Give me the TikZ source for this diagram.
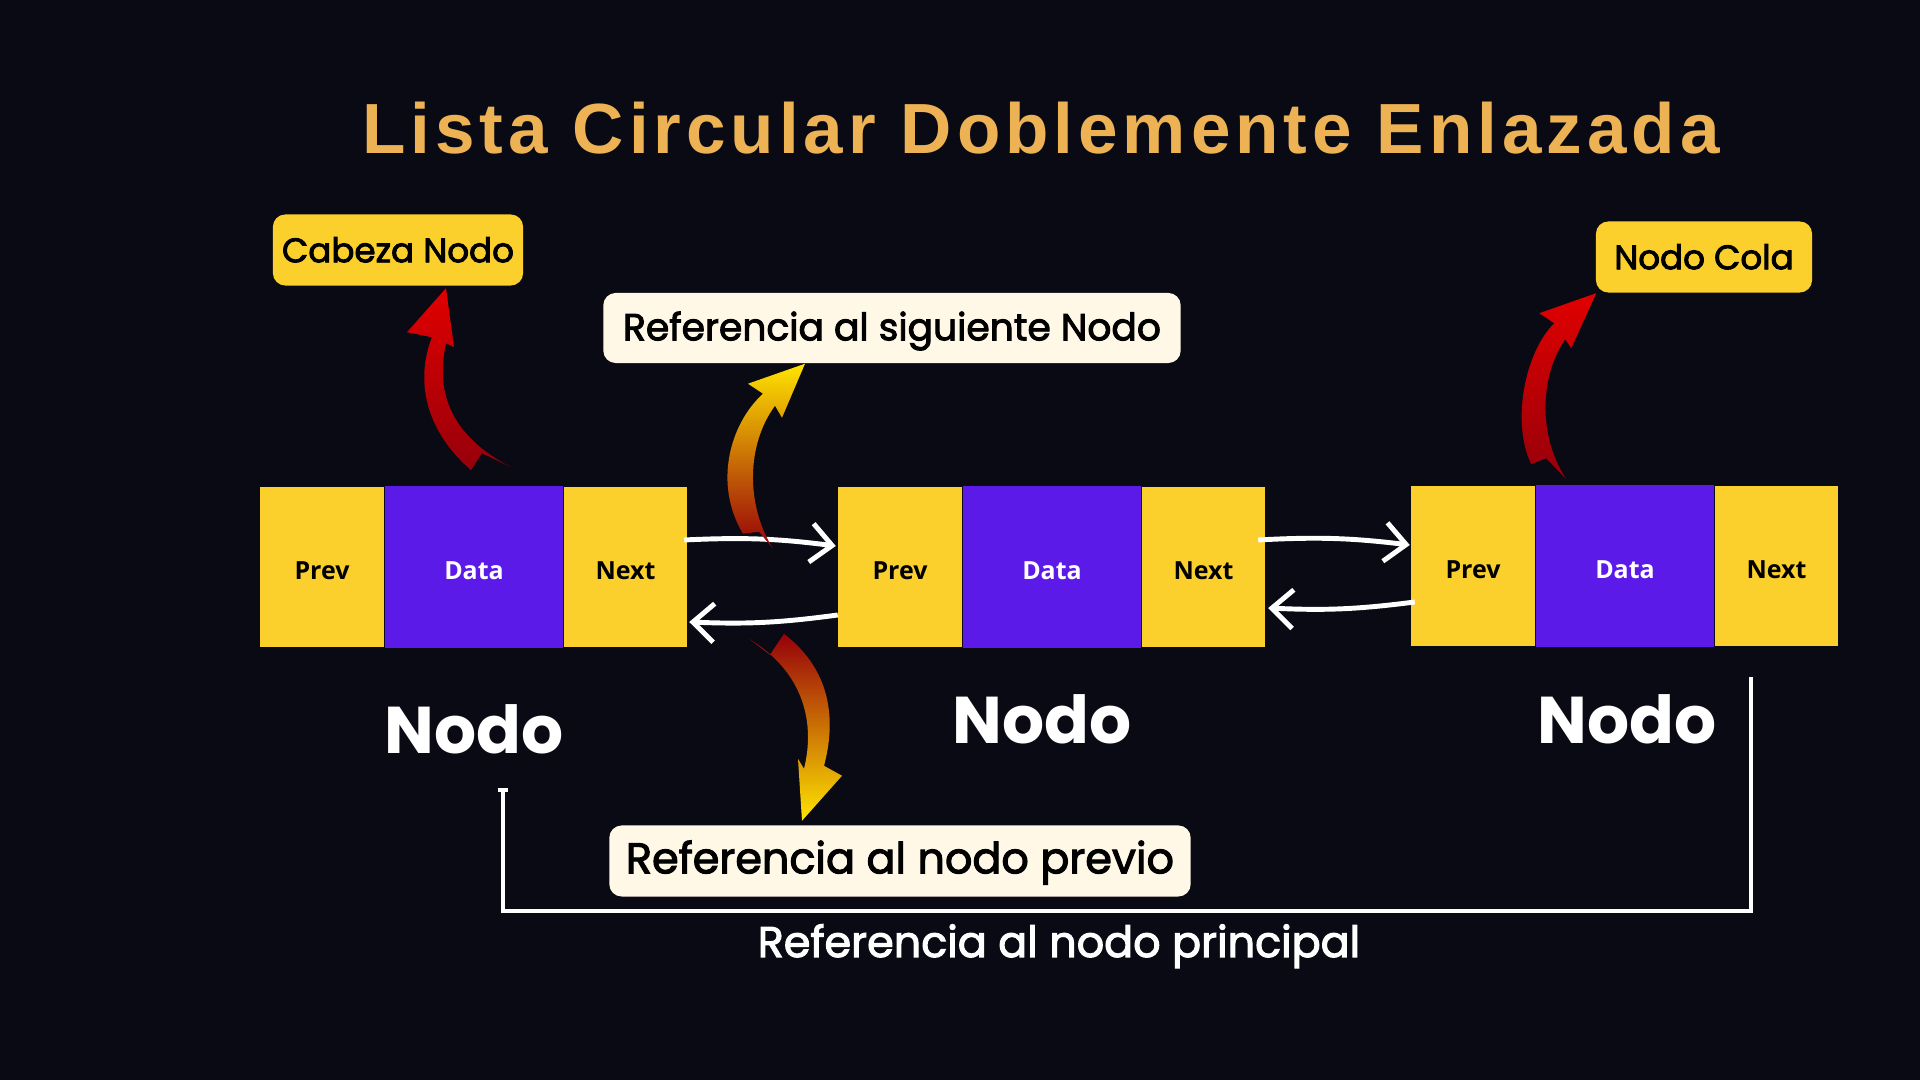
\documentclass[tikz,border=0pt]{standalone}
\usepackage{fontspec}
\setmainfont{Poppins}
\newfontfamily\lblfont[FakeBold=2.5]{Poppins}
\newfontfamily\titlefont[LetterSpace=7]{Liberation Sans}
\newfontfamily\cellfont{Open Sans}
\usetikzlibrary{positioning, arrows.meta, calc}
\definecolor{fondo}{RGB}{10,10,20}
\definecolor{celdaamarilla}{RGB}{252,208,44}
\definecolor{celdamorada}{RGB}{92,26,232}
\definecolor{titulonaranja}{RGB}{236,178,84}
\definecolor{crema}{RGB}{255,248,230}
\definecolor{rojoflecha}{RGB}{225,0,0}
\definecolor{rojooscuro}{RGB}{150,0,10}
\definecolor{amarilloflecha}{RGB}{255,228,0}

\begin{document}
\begin{tikzpicture}[x=0.01cm, y=-0.01cm,
  cell/.style={rectangle, inner sep=0pt, minimum height=1.59cm,
    text height=0.72em, text depth=0pt,
    font=\cellfont\bfseries\fontsize{7.1}{8}\selectfont},
  prevcell/.style={cell, fill=celdaamarilla, minimum width=1.23cm},
  datacell/.style={cell, fill=celdamorada, text=white, minimum width=1.78cm,
    minimum height=1.62cm},
  nextcell/.style={cell, fill=celdaamarilla, minimum width=1.22cm},
  tag/.style={rectangle, rounded corners=3.5pt, fill=celdaamarilla,
    inner sep=0pt, minimum height=0.71cm, text height=0.7em, text depth=0pt,
    font=\lblfont\fontsize{9.7}{12}\selectfont},
  refbox/.style={tag, fill=crema},
  nodolbl/.style={text=white, inner sep=0pt, anchor=base,
    font=\bfseries\fontsize{18.8}{22}\selectfont},
  link/.style={draw=white, line width=1.4pt,
    -{Straight Barb[length=6pt, width=11pt]}},
  bracket/.style={draw=white, line width=1pt, -{Bar[width=3pt]}},
  redswoosh/.style={top color=rojoflecha, bottom color=rojooscuro},
  upswoosh/.style={top color=amarilloflecha, middle color=orange,
    bottom color=rojooscuro},
  downswoosh/.style={top color=rojooscuro, middle color=orange,
    bottom color=amarilloflecha}
]
  \useasboundingbox (0,0) rectangle (1920,1080);
  \fill[fondo] (0,0) rectangle (1920,1080);

  \node[text=titulonaranja, anchor=base, inner sep=0pt,
    font=\titlefont\bfseries\fontsize{20.2}{24}\selectfont] (titulo)
    at (1041,154) {Lista Circular Doblemente Enlazada};

  % nodos de la lista
  \node[prevcell] (prev1) at (322,567) {Prev};
  \node[datacell, right=0pt of prev1] (data1) {Data};
  \node[nextcell, right=0pt of data1] (next1) {Next};

  \node[prevcell] (prev2) at (900,567) {Prev};
  \node[datacell, right=0pt of prev2] (data2) {Data};
  \node[nextcell, right=0pt of data2] (next2) {Next};

  \node[prevcell] (prev3) at (1473,566) {Prev};
  \node[datacell, right=0pt of prev3] (data3) {Data};
  \node[nextcell, right=0pt of data3] (next3) {Next};

  \node[nodolbl] (nodo1) at ($(data1.south)+(0,105)$) {Nodo};
  \node[nodolbl] (nodo2) at ($(data2.south)+(-10,95)$) {Nodo};
  \node[nodolbl] (nodo3) at ($(data3.south)+(2,96)$) {Nodo};

  % etiquetas
  \node[tag, minimum width=2.5cm] (cabeza) at (398,250) {Cabeza Nodo};
  \node[tag, minimum width=2.16cm] (cola) at (1704,257) {Nodo Cola};
  \node[refbox, minimum width=5.77cm, minimum height=0.7cm] (siguiente)
    at (892,328) {\fontsize{10.7}{13}\selectfont Referencia al siguiente Nodo};
  \node[refbox, minimum width=5.81cm] (previo) at (900,861)
    {\fontsize{12.2}{15}\selectfont Referencia al nodo previo};

  % enlaces
  \draw[link] ($(next1.east)+(-3,-27)$) to[bend left=5] ($(prev2.west)+(-2,-21)$);
  \draw[link] ($(prev2.west)+(0,48)$) to[bend left=5] ($(next1.east)+(2,55)$);
  \draw[link] ($(next2.east)+(-7,-27)$) to[bend left=5] ($(prev3.west)+(-1,-21)$);
  \draw[link] ($(prev3.west)+(4,36)$) to[bend left=5] ($(next2.east)+(3,41)$);

  % flechas curvas
  \begin{scope}[shift={($(cabeza.south)+(48,2)$)}]
    \shade[redswoosh] (0,0) -- (8,59) -- (0,55) .. controls (-8,92) and (-6,142) ..
      (65,179) -- (36,165) -- (25,182) .. controls (-21,142) and (-31,92) ..
      (-14,49) -- (-39,44) -- cycle;
  \end{scope}
  \begin{scope}[shift={($(cola.south west)+(1,0)$)}]
    \shade[redswoosh] (0,0) -- (-25,55) -- (-31,46) .. controls (-55,80) and (-60,140) ..
      (-30,186) -- (-50,165) -- (-65,171) .. controls (-85,130) and (-72,60) ..
      (-42,30) -- (-57,20) -- cycle;
  \end{scope}
  \begin{scope}[shift={($(siguiente.south)+(-87,0)$)}]
    \shade[upswoosh] (0,0) -- (-23,54) -- (-30,42) .. controls (-58,80) and (-60,140) ..
      (-32,185) -- (-46,168) -- (-62,170) .. controls (-92,120) and (-75,60) ..
      (-42,30) -- (-57,20) -- cycle;
  \end{scope}
  \begin{scope}[shift={($(previo.north)+(-98,-4)$)}]
    \shade[downswoosh] (0,0) -- (-4,-62) -- (2,-52) .. controls (14,-100) and (0,-150) ..
      (-53,-182) -- (-32,-166) -- (-18,-187) .. controls (30,-150) and (34,-100) ..
      (22,-55) -- (40,-45) -- cycle;
  \end{scope}

  % referencia al nodo principal
  \coordinate (brR) at (1751,677);
  \coordinate (brB) at (1127,911);
  \coordinate (brL) at (503,788);
  \draw[bracket] (brR) |- (brB) -| (brL);
  \node[text=white, anchor=base, inner sep=0pt,
    font=\lblfont\fontsize{12.2}{15}\selectfont]
    (principal) at (1059,957) {Referencia al nodo principal};
\end{tikzpicture}
\end{document}
